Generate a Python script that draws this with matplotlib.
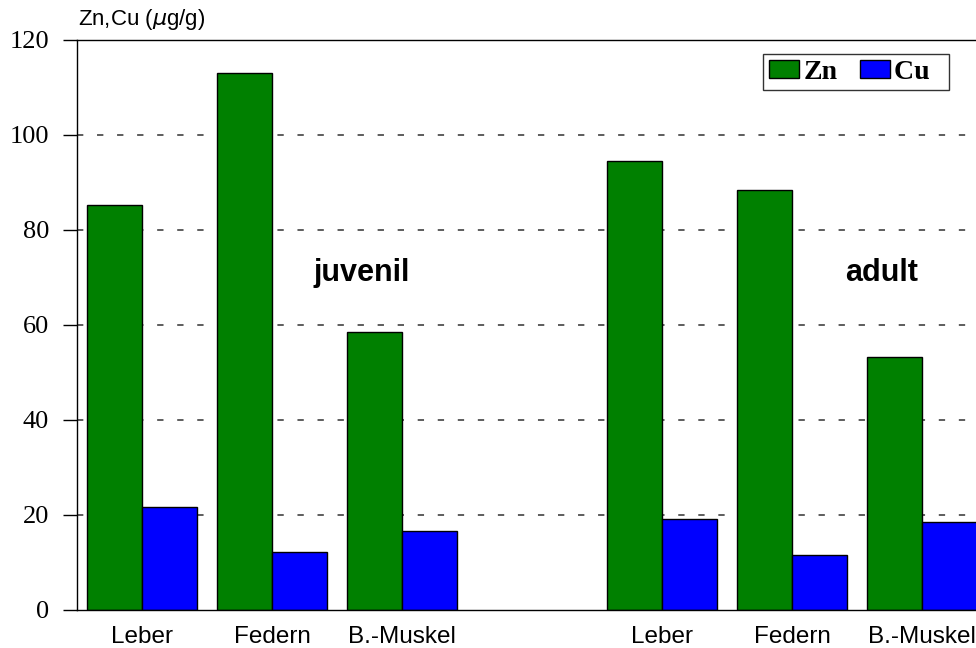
import numpy as np
import matplotlib as mpl
mpl.use('Agg')
import matplotlib.pyplot as plt
from matplotlib.patches import Patch

# data
categories = ['Leber', 'Federn', 'B.-Muskel', 'Leber', 'Federn', 'B.-Muskel']
positions = [0, 1, 2, 4, 5, 6]
zn = [85.2, 113.0, 58.5, 94.5, 88.4, 53.2]
cu = [21.6, 12.1, 16.5, 19.1, 11.5, 18.4]
groups = ['juvenil', 'adult']
group_x = [1.69, 5.69]

W, H = 976, 648
fig = plt.figure(figsize=(W / 100, H / 100), dpi=100)
ax = fig.add_axes([77 / W, (H - 609.5) / H, 910 / W, 569.5 / H])

bw = 0.423
x = np.array(positions)
ax.bar(x - bw / 2, zn, bw, color='#008000', edgecolor='black', linewidth=1, zorder=2)
ax.bar(x + bw / 2, cu, bw, color='#0000ff', edgecolor='black', linewidth=1, zorder=2)

ax.set_xlim(-0.5, 6.5)
ax.set_ylim(0, 120)
ax.set_yticks(range(0, 121, 20))
ax.set_xticks(positions)
ax.set_xticklabels(categories, fontsize=17.5, family='Liberation Sans')
ax.tick_params(axis='x', length=0, pad=12)
ax.tick_params(axis='y', direction='out', length=10, width=1, pad=10,
               labelsize=19, labelfontfamily='Liberation Serif')

for yv in range(20, 101, 20):
    ax.axhline(yv, color='#505050', linestyle=(0, (3.5, 7.6)), linewidth=1.3, zorder=1)

ax.spines['right'].set_visible(False)
for s in ['left', 'top', 'bottom']:
    ax.spines[s].set_linewidth(1)

for g, gx in zip(groups, group_x):
    ax.text(gx, 71, g, ha='center', va='center', fontsize=22,
            fontweight='bold', family='Liberation Sans')

fig.text(78 / W, 1 - 20 / H, r'Zn,Cu ($\mu$g/g)', ha='left', va='center',
         fontsize=16, family='Liberation Sans')

handles = [Patch(facecolor='#008000', edgecolor='black', label='Zn'),
           Patch(facecolor='#0000ff', edgecolor='black', label='Cu  ')]
leg = ax.legend(handles=handles, ncol=2, loc='upper left',
                bbox_to_anchor=((763 - 77) / 910, 1 - 14 / 569.5),
                prop={'family': 'Liberation Serif', 'weight': 'bold', 'size': 20},
                frameon=True, fancybox=False, edgecolor='black',
                handlelength=1.1, handleheight=0.6, handletextpad=0.15,
                columnspacing=0.8, borderpad=0.2, borderaxespad=0)
leg.get_frame().set_linewidth(1)

fig.savefig('out.png', dpi=100)
plt.close(fig)
